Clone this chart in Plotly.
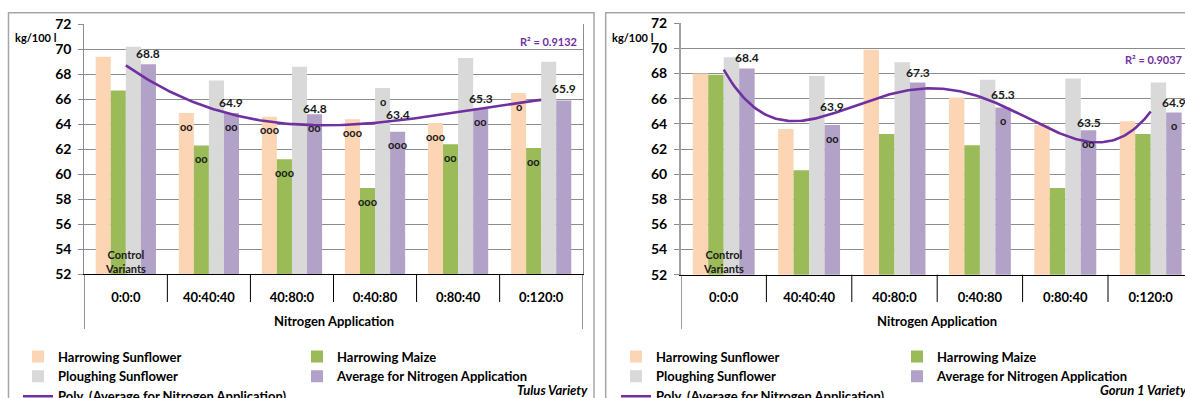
import numpy as np
import plotly.graph_objects as go

# ---------------- data ----------------
categories = ["0:0:0", "40:40:40", "40:80:0", "0:40:80", "0:80:40", "0:120:0"]
series_names = ["Harrowing Sunflower", "Harrowing Maize", "Ploughing Sunflower",
                "Average for Nitrogen Application"]

tulus_harrowing_sunflower = [69.4, 64.9, 64.6, 64.4, 64.1, 66.5]
tulus_harrowing_maize = [66.7, 62.3, 61.2, 58.9, 62.4, 62.1]
tulus_ploughing_sunflower = [70.2, 67.5, 68.6, 66.9, 69.3, 69.0]
tulus_average = [68.8, 64.9, 64.8, 63.4, 65.3, 65.9]
tulus_signif_hs = ["", "oo", "ooo", "ooo", "ooo", "o"]
tulus_signif_hm = ["", "oo", "ooo", "ooo", "oo", "oo"]
tulus_signif_ps = ["", "", "", "o", "", ""]
tulus_signif_avg = ["", "oo", "oo", "ooo", "oo", ""]
tulus_r2 = "R² = 0.9132"

gorun_harrowing_sunflower = [68.0, 63.6, 69.9, 66.1, 63.9, 64.2]
gorun_harrowing_maize = [67.9, 60.3, 63.2, 62.3, 58.9, 63.2]
gorun_ploughing_sunflower = [69.3, 67.8, 68.9, 67.5, 67.6, 67.3]
gorun_average = [68.4, 63.9, 67.3, 65.3, 63.5, 64.9]
gorun_signif_hs = ["", "", "", "", "", ""]
gorun_signif_hm = ["", "", "", "", "", ""]
gorun_signif_ps = ["", "", "", "", "", ""]
gorun_signif_avg = ["", "oo", "", "o", "oo", "o"]
gorun_r2 = "R² = 0.9037"

# ---------------- styling ----------------
W, H = 1185, 398
FONT = "Lato"
COLORS = ["#FCD5B5", "#9BBB59", "#D9D9D9", "#B3A2C7"]
TREND = "#7030A0"
GRID = "#8c8c8c"
BARGAP = 0.275


def fx(p):
    return p / W


def fy(p):
    return 1 - p / H


def bar_offset(j, n=4):
    w = (1 - BARGAP) / n
    return -(1 - BARGAP) / 2 + w * (j + 0.5)


fig = go.Figure()
annotations = []
shapes = []

panels = [
    dict(xa="x", ya="y", xname="xaxis", yname="yaxis",
         series=[tulus_harrowing_sunflower, tulus_harrowing_maize,
                 tulus_ploughing_sunflower, tulus_average],
         signif=[tulus_signif_hs, tulus_signif_hm, tulus_signif_ps, tulus_signif_avg],
         order=3, r2=tulus_r2, legends=("legend", "legend2"),
         label_lift=[11, 11, 6, 17, 10, 12],
         plot_l=84.3, plot_r=582.7, top=24.3, bottom=274.3,
         frame_l=8.5, frame_r=594, r2_x=579, r2_anchor="right", r2_y=41.7,
         unit_x=13, variety="Tulus Variety", var_x=590,
         leg_x=(18, 297), ylw=1, ylc=GRID),
    dict(xa="x2", ya="y2", xname="xaxis2", yname="yaxis2",
         series=[gorun_harrowing_sunflower, gorun_harrowing_maize,
                 gorun_ploughing_sunflower, gorun_average],
         signif=[gorun_signif_hs, gorun_signif_hm, gorun_signif_ps, gorun_signif_avg],
         order=4, r2=gorun_r2, legends=("legend3", "legend4"),
         label_lift=[11, 19, 10, 13, 8, 10],
         plot_l=681, plot_r=1193.4, top=23.3, bottom=274.7,
         frame_l=605.7, frame_r=1191, r2_x=1184, r2_anchor="right", r2_y=59.3,
         unit_x=610, variety="Gorun 1 Variety", var_x=1189,
         leg_x=(616, 897), ylw=2, ylc="#a0a0a0"),
]

n = len(categories)
xs = np.arange(n)
layout_axes = {}

for p in panels:
    # bars
    for j, (name, vals) in enumerate(zip(series_names, p["series"])):
        fig.add_trace(go.Bar(
            x=xs, y=vals, name=name, marker=dict(color=COLORS[j], line=dict(width=0)),
            xaxis=p["xa"], yaxis=p["ya"],
            legend=p["legends"][0] if j % 2 == 0 else p["legends"][1],
            hoverinfo="skip"))
    # polynomial trendline of the averages
    avg = np.array(p["series"][3])
    coef = np.polyfit(xs, avg, p["order"])
    xt = np.linspace(0, n - 1, 200)
    fig.add_trace(go.Scatter(
        x=xt, y=np.polyval(coef, xt), mode="lines",
        name="Poly. (Average for Nitrogen Application)",
        line=dict(color=TREND, width=2.6), xaxis=p["xa"], yaxis=p["ya"],
        legend=p["legends"][0], hoverinfo="skip"))

    # value labels above the average bars
    for i, v in enumerate(avg):
        annotations.append(dict(
            x=i + bar_offset(3), y=v, xref=p["xa"], yref=p["ya"],
            text=f"{v:.1f}", showarrow=False, yshift=p["label_lift"][i],
            font=dict(family=FONT, size=12, color="#1a1a1a", weight=700)))
    # significance marks just below the bar tops
    for j, marks in enumerate(p["signif"]):
        for i, m in enumerate(marks):
            if m:
                annotations.append(dict(
                    x=i + bar_offset(j), y=p["series"][j][i], xref=p["xa"], yref=p["ya"],
                    text=m, showarrow=False, yshift=-13,
                    font=dict(family=FONT, size=11, color="#1a1a1a", weight=700)))

    # texts
    annotations += [
        dict(x=0, y=fy(261), xref=p["xa"], yref="paper", text="Control<br>Variants",
             showarrow=False, align="center",
             font=dict(family=FONT, size=11, color="#1a1a1a", weight=700)),
        dict(x=(n - 1) / 2, y=fy(321), xref=p["xa"], yref="paper", yanchor="middle",
             text="Nitrogen Application", showarrow=False,
             font=dict(family=FONT, size=13, color="#000000", weight=700)),
        dict(x=fx(p["unit_x"]), y=fy(37), xref="paper", yref="paper", xanchor="left",
             yanchor="middle", text="kg/100 l", showarrow=False,
             font=dict(family=FONT, size=11, color="#000000", weight=700)),
        dict(x=fx(p["r2_x"]), y=fy(p["r2_y"]), xref="paper", yref="paper",
             xanchor=p["r2_anchor"], yanchor="middle", text=p["r2"], showarrow=False,
             font=dict(family=FONT, size=11, color=TREND, weight=700)),
        dict(x=fx(p["var_x"]), y=fy(390), xref="paper", yref="paper", xanchor="right",
             yanchor="middle", text=f"<i>{p['variety']}</i>", showarrow=False,
             font=dict(family=FONT, size=13, color="#000000", weight=700)),
    ]

    # category separators of the axis box
    for b in range(n + 1):
        outer = b in (0, n)
        shapes.append(dict(
            type="line", xref=p["xa"], yref="paper", x0=b - 0.5, x1=b - 0.5,
            y0=fy(p["bottom"]), y1=fy(329 if outer else 302),
            line=dict(color="#000000" if not outer else "#404040", width=1)))
    # chart frame
    shapes.append(dict(type="rect", xref="paper", yref="paper",
                       x0=fx(p["frame_l"]), x1=fx(p["frame_r"]), y0=-0.2, y1=fy(12.7),
                       line=dict(color="#a6a6a6", width=1.5), fillcolor="rgba(0,0,0,0)",
                       layer="below"))

    visible_r = min(p["plot_r"], W)
    span = (p["plot_r"] - p["plot_l"]) / n
    layout_axes[p["xname"]] = dict(
        domain=[fx(p["plot_l"]), fx(visible_r)], anchor=p["ya"],
        range=[-0.5, -0.5 + (visible_r - p["plot_l"]) / span],
        tickvals=list(xs), ticktext=categories, ticks="outside", ticklen=11,
        tickcolor="rgba(0,0,0,0)", showline=True, linecolor="#000000", linewidth=1,
        showgrid=False, zeroline=False, fixedrange=True,
        tickfont=dict(family=FONT, size=13, color="#000000", weight=700))
    layout_axes[p["yname"]] = dict(
        domain=[fy(p["bottom"]), fy(p["top"])], anchor=p["xa"],
        range=[52, 72], dtick=2, tick0=52, showgrid=True, gridcolor=GRID, gridwidth=1,
        showline=True, linecolor=p["ylc"], linewidth=p["ylw"], mirror=True,
        ticks="outside", ticklen=5, tickcolor=GRID, zeroline=False,
        ticklabelstandoff=4,
        tickfont=dict(family=FONT, size=14, color="#000000", weight=700))

legend_style = dict(orientation="v", xanchor="left", yanchor="top", y=fy(341.5),
                    bgcolor="rgba(0,0,0,0)", borderwidth=0, tracegroupgap=0,
                    font=dict(family=FONT, size=13, color="#000000", weight=700))
legends = {}
for p in panels:
    for k, name in enumerate(p["legends"]):
        legends[name] = dict(legend_style, x=fx(p["leg_x"][k]))

fig.update_layout(
    width=W, height=H, margin=dict(l=0, r=0, t=0, b=0, autoexpand=False),
    paper_bgcolor="white", plot_bgcolor="white",
    barmode="group", bargap=BARGAP, bargroupgap=0,
    showlegend=True, annotations=annotations, shapes=shapes,
    font=dict(family=FONT, color="#000000"),
    **layout_axes, **legends)

fig.write_html("out.html")
